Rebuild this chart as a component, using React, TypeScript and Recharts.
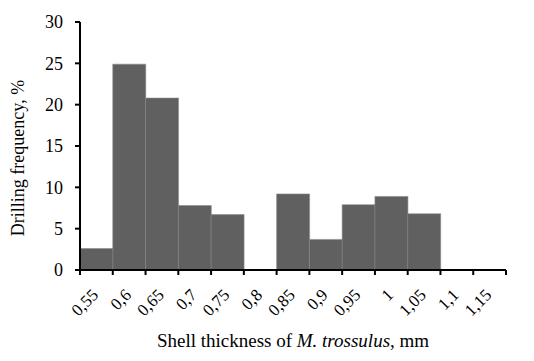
import React from 'react';
import { BarChart, Bar, XAxis, YAxis, Label } from 'recharts';

const categories = ['0,55', '0,6', '0,65', '0,7', '0,75', '0,8', '0,85', '0,9', '0,95', '1', '1,05', '1,1', '1,15'];
const frequency = [2.6, 24.9, 20.8, 7.8, 6.7, 0, 9.2, 3.7, 7.9, 8.9, 6.8, 0, 0];
const yTicks = [0, 5, 10, 15, 20, 25, 30];

const data = categories.map((c, i) => ({ name: c, value: frequency[i] }));

const FONT = '"Liberation Serif", "Times New Roman", serif';
const CHART_W = 534;
const CHART_H = 361;
const M_LEFT = 80;
const M_RIGHT = 28;

const XTick = (props: any) => {
  const { x, y, payload, index } = props;
  const half =
    payload && payload.offset ? payload.offset : (CHART_W - M_LEFT - M_RIGHT) / categories.length / 2;
  const isLast = index === categories.length - 1;
  return (
    <g>
      <line x1={x - half} x2={x - half} y1={y} y2={y + 5} stroke="#000" strokeWidth={2} />
      {isLast && <line x1={x + half} x2={x + half} y1={y} y2={y + 5} stroke="#000" strokeWidth={2} />}
      <g transform={`translate(${x + 3},${y + 26})`}>
        <text x={0} y={0} textAnchor="end" transform="rotate(-45)" fontFamily={FONT} fontSize={17} fill="#000">
          {payload.value}
        </text>
      </g>
    </g>
  );
};

const XTitle = (props: any) => {
  const { viewBox } = props;
  const cx = viewBox.x + viewBox.width / 2;
  return (
    <text x={cx} y={347} textAnchor="middle" fontFamily={FONT} fontSize={19} fill="#000">
      Shell thickness of <tspan fontStyle="italic">M. trossulus</tspan>, mm
    </text>
  );
};

const YTitle = (props: any) => {
  const { viewBox } = props;
  const cy = viewBox.y + viewBox.height / 2 + 12;
  return (
    <text
      x={24}
      y={cy}
      textAnchor="middle"
      transform={`rotate(-90, 24, ${cy})`}
      fontFamily={FONT}
      fontSize={18}
      fill="#000"
    >
      Drilling frequency, %
    </text>
  );
};

export default function App() {
  return (
    <div style={{ position: 'absolute', left: 0, top: 0, width: CHART_W, height: CHART_H, background: '#fff' }}>
      <BarChart
        width={CHART_W}
        height={CHART_H}
        data={data}
        margin={{ top: 22, right: M_RIGHT, left: 0, bottom: 0 }}
        barCategoryGap={0}
        barGap={0}
      >
        <XAxis
          dataKey="name"
          height={91}
          interval={0}
          tick={<XTick />}
          tickLine={false}
          axisLine={{ stroke: '#000', strokeWidth: 2 }}
          tickSize={0}
          tickMargin={0}
          scale="band"
        >
          <Label content={<XTitle />} />
        </XAxis>
        <YAxis
          domain={[0, 30]}
          ticks={yTicks}
          width={M_LEFT}
          tickLine={{ stroke: '#000', strokeWidth: 2 }}
          axisLine={{ stroke: '#000', strokeWidth: 2 }}
          tickSize={5}
          tickMargin={12}
          tick={{ fontFamily: FONT, fontSize: 18, fill: '#000' }}
          interval={0}
        >
          <Label content={<YTitle />} />
        </YAxis>
        <Bar dataKey="value" fill="#606060" stroke="#8a8a8a" strokeWidth={0.6} isAnimationActive={false} />
      </BarChart>
    </div>
  );
}
